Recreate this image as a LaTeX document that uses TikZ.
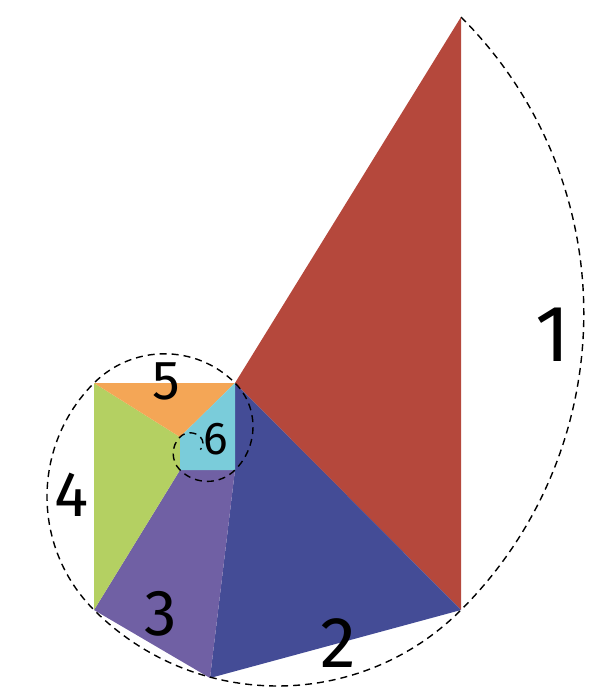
\documentclass[tikz,border=0pt]{standalone}
\usepackage{fontspec}
\setmainfont{Fira Sans}
\definecolor{SpRed}{HTML}{B5483C}
\definecolor{SpBlue}{HTML}{444C96}
\definecolor{SpPurple}{HTML}{7060A4}
\definecolor{SpGreen}{HTML}{B4D062}
\definecolor{SpOrange}{HTML}{F4A656}
\definecolor{SpCyan}{HTML}{7ACCDA}
\begin{document}
\begin{tikzpicture}[x=1pt,y=-1pt]
\tikzset{spiral/.style={draw=black,dash pattern=on 7pt off 5pt,line width=1.4pt},
         num/.style={inner sep=0pt,text=black}}
\useasboundingbox (0,0) rectangle (604,694);
% corners of the pieces
\coordinate (A) at (461,17);
\coordinate (B) at (461,610);
\coordinate (C) at (235,383);
\coordinate (D) at (210,678);
\coordinate (E) at (94,610);
\coordinate (F) at (94,383);
\coordinate (G) at (235,470);
\coordinate (H) at (180,470);
\coordinate (I) at (180,437);
\fill[SpRed] (A) -- (B) -- (C) -- cycle;
\fill[SpBlue] (C) -- (B) -- (D) -- (G) -- cycle;
\fill[SpPurple] (G) -- (D) -- (E) -- (H) -- cycle;
\fill[SpGreen] (H) -- (E) -- (F) -- (I) -- cycle;
\fill[SpOrange] (F) -- (C) -- (I) -- cycle;
\fill[SpCyan] (C) -- (G) -- (H) -- (I) -- cycle;
% quarter arcs
\draw[spiral] (A) arc[start angle=-45,end angle=45,radius=419.3]
  arc[start angle=45,end angle=135,radius=259.5]
  arc[start angle=135,end angle=225,radius=160.5]
  arc[start angle=225,end angle=315,radius=99.7]
  arc[start angle=315,end angle=405,radius=61.5]
  arc[start angle=45,end angle=135,radius=38.9]
  arc[start angle=135,end angle=225,radius=23.3]
  arc[start angle=225,end angle=315,radius=14.4]
  arc[start angle=315,end angle=405,radius=8.9];
\node[num,font=\fontsize{80}{80}\selectfont] (n1) at (553,335) {1};
\node[num,font=\fontsize{72}{72}\selectfont] (n2) at (338,643) {2};
\node[num,font=\fontsize{65}{65}\selectfont] (n3) at (161,614) {3};
\node[num,font=\fontsize{64}{64}\selectfont] (n4) at (71.5,495) {4};
\node[num,font=\fontsize{55}{55}\selectfont] (n5) at (166.5,381) {5};
\node[num,font=\fontsize{46}{46}\selectfont] (n6) at (216,439) {6};
\end{tikzpicture}
\end{document}
